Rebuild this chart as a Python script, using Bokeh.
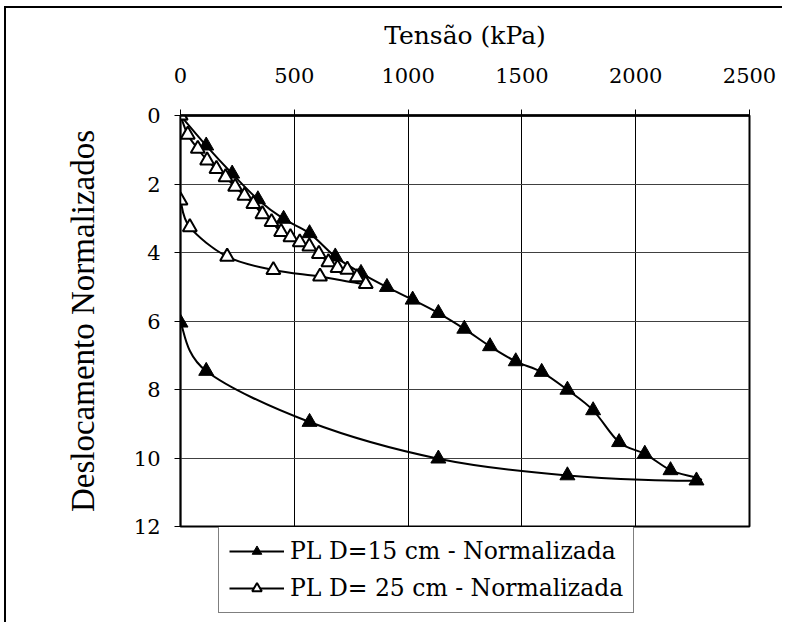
import numpy as np
from bokeh.plotting import figure
from bokeh.layouts import column
from bokeh.models import Range1d, FixedTicker, Legend, LegendItem, ColumnDataSource
from bokeh.embed import file_html
from bokeh.resources import INLINE

# ---- data ----
x_ticks = [0, 500, 1000, 1500, 2000, 2500]
y_ticks = [0, 2, 4, 6, 8, 10, 12]

label_15 = "PL D=15 cm - Normalizada"
tensao_15 = [0, 113, 227, 340, 453, 567, 680, 793, 907, 1020, 1133, 1247, 1360,
             1473, 1587, 1700, 1813, 1927, 2040, 2153, 2267, 1700, 1133, 567, 113, 0]
desloc_15 = [0, 0.88, 1.70, 2.45, 3.02, 3.44, 4.12, 4.60, 5.01, 5.38, 5.77, 6.23, 6.74,
             7.18, 7.49, 8.01, 8.61, 9.54, 9.88, 10.36, 10.66, 10.51, 10.02, 8.95, 7.46, 6.05]

label_25 = "PL D= 25 cm - Normalizada"
tensao_25 = [0, 32, 76, 117, 158, 198, 240, 281, 320, 360, 400, 442, 483, 524, 566,
             608, 650, 690, 733, 775, 814, 613, 408, 205, 41, 0]
desloc_25 = [0, 0.56, 0.97, 1.31, 1.56, 1.80, 2.08, 2.34, 2.58, 2.88, 3.11, 3.40, 3.55,
             3.70, 3.82, 4.04, 4.28, 4.45, 4.50, 4.72, 4.92, 4.70, 4.51, 4.12, 3.26, 2.48]

SERIF_ROT = "'Liberation Serif'"
SERIF_H = "DejaVu Serif"


def smooth_source(xs, ys):
    """Excel-like smoothed line: cubic Bezier segments (Catmull-Rom control points)."""
    P = np.column_stack([xs, ys]).astype(float)
    n = len(P)
    d = {k: [] for k in ("x0", "y0", "x1", "y1", "cx0", "cy0", "cx1", "cy1")}
    for i in range(n - 1):
        pm = P[i - 1] if i > 0 else P[i]
        p0 = P[i]
        p1 = P[i + 1]
        p2 = P[i + 2] if i + 2 < n else P[i + 1]
        c0 = p0 + (p1 - pm) / 6.0
        c1 = p1 - (p2 - p0) / 6.0
        d["x0"].append(p0[0]); d["y0"].append(p0[1])
        d["x1"].append(p1[0]); d["y1"].append(p1[1])
        d["cx0"].append(c0[0]); d["cy0"].append(c0[1])
        d["cx1"].append(c1[0]); d["cy1"].append(c1[1])
    return ColumnDataSource(d)


W = 776
p = figure(width=W, height=531, frame_width=569, frame_height=411,
           x_range=Range1d(0, 2500), y_range=Range1d(12, 0),
           x_axis_location="above", output_backend="svg", toolbar_location=None,
           min_border_left=174, min_border_top=107, min_border_right=W - 174 - 569,
           min_border_bottom=13)

p.background_fill_color = "white"
p.border_fill_color = "white"
p.outline_line_color = "black"
p.outline_line_width = 2

# axes
p.xaxis.ticker = FixedTicker(ticks=x_ticks)
p.yaxis.ticker = FixedTicker(ticks=y_ticks)
p.xaxis.axis_label = "Tensão (kPa)"
p.yaxis.axis_label = "Deslocamento Normalizados"
for ax in (p.xaxis, p.yaxis):
    ax.axis_label_text_font_style = "normal"
    ax.axis_label_text_color = "black"
    ax.major_label_text_font = SERIF_H
    ax.major_label_text_font_size = "21px"
    ax.major_label_text_color = "black"
    ax.axis_line_color = "black"
    ax.major_tick_line_color = "black"
    ax.major_tick_in = 0
    ax.major_tick_out = 6
    ax.minor_tick_line_color = None
p.xaxis.axis_label_text_font = SERIF_H
p.xaxis.axis_label_text_font_size = "25px"
p.yaxis.axis_label_text_font = SERIF_ROT
p.yaxis.axis_label_text_font_size = "33px"
p.xaxis.axis_line_width = 2.5
p.yaxis.axis_line_width = 1.5
p.xaxis.major_label_standoff = 27
p.xaxis.axis_label_standoff = 15
p.yaxis.major_label_standoff = 14
p.yaxis.axis_label_standoff = 30

# grid
p.xgrid.grid_line_color = "black"
p.xgrid.grid_line_width = 1
p.ygrid.grid_line_color = "#404040"
p.ygrid.grid_line_width = 1

# series D=15
p.bezier(x0="x0", y0="y0", x1="x1", y1="y1", cx0="cx0", cy0="cy0", cx1="cx1", cy1="cy1",
         source=smooth_source(tensao_15, desloc_15), line_color="black", line_width=2)
p.scatter(tensao_15, desloc_15, marker="triangle", size=15,
          fill_color="black", line_color="black", line_width=1)

# series D=25
p.bezier(x0="x0", y0="y0", x1="x1", y1="y1", cx0="cx0", cy0="cy0", cx1="cx1", cy1="cy1",
         source=smooth_source(tensao_25, desloc_25), line_color="black", line_width=2)
p.scatter(tensao_25, desloc_25, marker="triangle", size=14,
          fill_color="white", line_color="black", line_width=2)

# ---- legend strip below the plot (its frame is aligned with the plot frame) ----
q = figure(width=W, height=95, x_range=Range1d(0, 1), y_range=Range1d(0, 1),
           output_backend="svg", toolbar_location=None,
           min_border_left=0, min_border_right=0, min_border_top=0, min_border_bottom=0)
q.axis.visible = False
q.grid.visible = False
q.outline_line_color = None
q.background_fill_alpha = 0
q.border_fill_alpha = 0
# legend-only proxies (one point each, outside the visible range)
l15 = q.line([-5, -4], [-5, -4], line_color="black", line_width=2)
s15 = q.scatter([-5], [-5], marker="triangle", size=15, fill_color="black",
                line_color="black", line_width=1)
l25 = q.line([-5, -4], [-5, -4], line_color="black", line_width=2)
s25 = q.scatter([-5], [-5], marker="triangle", size=14, fill_color="white",
                line_color="black", line_width=2)

legend = Legend(items=[LegendItem(label=label_15, renderers=[l15, s15]),
                       LegendItem(label=label_25, renderers=[l25, s25])],
                location=(38, 9))
legend.border_line_color = "black"
legend.border_line_width = 1
legend.background_fill_color = "white"
legend.background_fill_alpha = 1
legend.label_text_font = SERIF_H
legend.label_text_font_size = "23.5px"
legend.label_text_color = "black"
legend.glyph_width = 55
legend.glyph_height = 24
legend.label_standoff = 6
legend.padding = 10
legend.spacing = 9
legend.margin = 0
q.add_layout(legend)
q.styles = {"margin-top": "-12px"}

layout = column(p, q, spacing=0)
layout.styles = {"margin-left": "4px", "margin-top": "6px",
                 "border-left": "2px solid black", "border-top": "2px solid black"}

open("out.html", "w").write(file_html(layout, INLINE))
